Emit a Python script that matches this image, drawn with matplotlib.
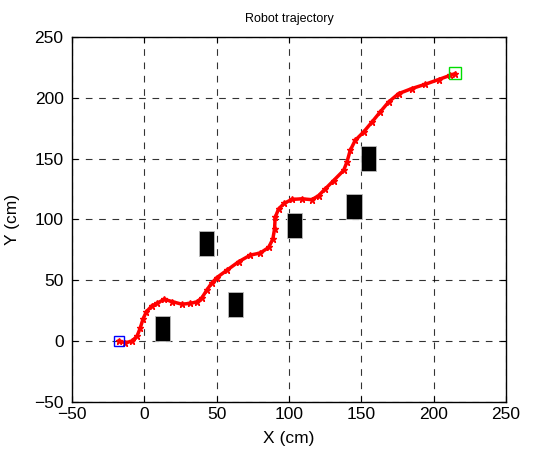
import matplotlib.pyplot as plt

# trajectory (cm)
traj_x = [-17.5, -13, -8.5, -5, -2.7, -0.9, 1.4, 5.3, 8.8, 13.8, 19, 26, 31.8, 36.4,
          39.9, 43.3, 46.5, 50.2, 57.2, 65.2, 73.3, 80.2, 86, 88.9, 90.1, 90.5, 92.9,
          96.8, 102, 109, 115.9, 120.5, 125.1, 130.9, 137.8, 140.1, 142.4, 145.8,
          151.6, 157.4, 163.1, 168.9, 175.8, 185, 194.2, 203.5, 211.5, 215]
traj_y = [0, -1.5, 0, 4, 11, 18, 24, 29, 31, 34.4, 32.5, 30.3, 31, 32.2,
          35.7, 42, 47.5, 52.2, 58.3, 65.2, 70.7, 72.4, 77, 83.9, 92.2, 101.7, 108.7,
          113.3, 116.5, 117, 116.3, 119.6, 125.1, 132, 140.3, 147.1, 156.8, 165,
          171.9, 180.1, 188.4, 196.6, 203.5, 207.7, 211.2, 215.1, 218.6, 220]

# obstacles: centre and size
obs_x = [12.5, 43, 63, 104, 145, 155]
obs_y = [10, 80, 30, 95, 111, 150]
obs_w = [10.5, 10.5, 10.5, 10.5, 11, 10.5]
obs_h = [20.5, 20.5, 20.5, 20.5, 20.5, 20.5]

start = (-17.5, 0)
goal = (215, 220.5)

plt.rcParams['font.family'] = ['Liberation Sans', 'DejaVu Sans']

fig = plt.figure(figsize=(5.33, 4.53), dpi=100)
ax = fig.add_axes([0.135, 0.113, 0.814, 0.805])

ax.bar(obs_x, obs_h, width=obs_w, bottom=[y - h / 2 for y, h in zip(obs_y, obs_h)],
       color='black', edgecolor='#bbbbbb', linewidth=0.6, zorder=2)

ax.plot(traj_x, traj_y, color='red', lw=2.5, marker='*', ms=5, zorder=3)
ax.plot(*start, marker='s', ms=7, mfc='none', mec='blue', mew=1, zorder=4)
ax.plot(*goal, marker='s', ms=8, mfc='none', mec='#00dd00', mew=1, zorder=4)

ax.set_xlim(-50, 250)
ax.set_ylim(-50, 250)
ax.set_xticks(range(-50, 251, 50))
ax.set_yticks(range(-50, 251, 50))
ax.grid(True, color='black', linestyle=(0, (6, 6)), linewidth=0.8, alpha=0.8)
ax.set_axisbelow(True)
ax.tick_params(direction='in', top=True, right=True, labelsize=12.5, length=4)
ax.tick_params(axis='x', pad=4)
ax.tick_params(axis='y', pad=6)
for s in ax.spines.values():
    s.set_linewidth(1)

ax.set_title('Robot trajectory', fontsize=9, pad=11)
ax.set_xlabel('X (cm)', fontsize=12.5, labelpad=6)
ax.set_ylabel('Y (cm)', fontsize=12.5, labelpad=10)

fig.savefig('out.png', dpi=100)
